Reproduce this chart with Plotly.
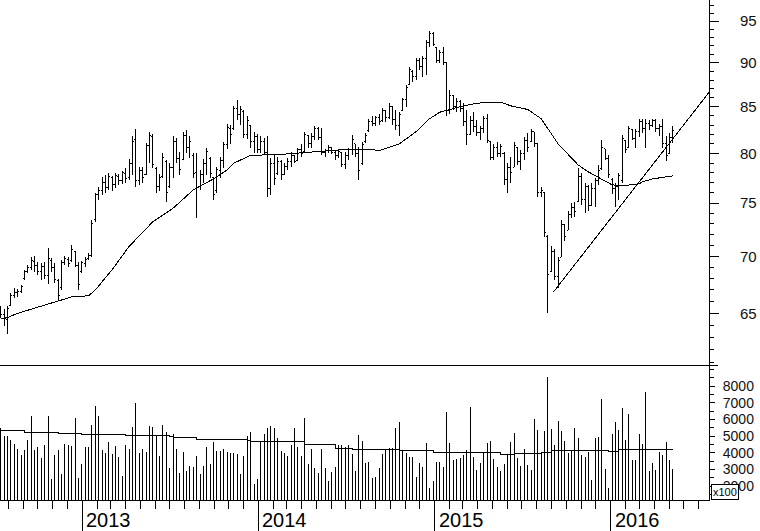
import math
import pandas as pd
import plotly.graph_objects as go

# ---------------- data (weekly bars) ----------------
start_date = "2012-07-16"
n_bars = 200

high = [
    65.6, 65.4, 65.6, 66.7, 67.2, 67.1, 67.4, 68.8, 69.2, 69.9,
    70.0, 69.5, 69.4, 69.5, 70.8, 69.8, 69.4, 68.0, 69.7, 70.0,
    69.9, 71.0, 70.5, 69.5, 69.6, 69.9, 70.3, 73.4, 76.0, 76.6,
    77.6, 77.8, 78.0, 77.7, 78.0, 77.9, 78.2, 78.5, 79.4, 81.8,
    82.6, 78.6, 78.6, 81.1, 82.3, 82.0, 78.6, 77.9, 80.0, 79.3,
    79.0, 81.8, 81.6, 80.1, 82.3, 82.5, 81.8, 80.0, 80.0, 78.3,
    79.4, 80.6, 79.6, 77.6, 78.6, 79.6, 81.2, 83.1, 83.0, 85.1,
    85.7, 85.1, 84.6, 84.0, 83.0, 82.3, 82.0, 81.8, 81.6, 81.8,
    79.5, 79.8, 79.6, 79.3, 79.0, 79.5, 80.1, 79.8, 80.6, 81.0,
    82.3, 81.9, 82.1, 82.9, 82.8, 82.7, 80.5, 80.9, 80.7, 80.4,
    80.5, 80.1, 80.1, 80.6, 81.9, 81.0, 80.7, 81.2, 82.1, 83.7,
    84.0, 84.0, 84.2, 84.9, 84.6, 85.4, 85.0, 84.6, 84.4, 86.0,
    87.4, 89.5, 89.2, 90.6, 90.6, 90.8, 92.7, 93.8, 93.7, 91.8,
    91.5, 91.8, 90.1, 86.9, 86.3, 86.0, 85.7, 85.4, 84.6, 84.0,
    84.4, 83.5, 82.9, 84.0, 84.2, 81.2, 81.0, 81.2, 81.0, 80.1,
    79.0, 79.6, 81.2, 80.7, 80.4, 81.7, 82.1, 82.6, 82.3, 81.0,
    76.6, 76.0, 72.0, 70.9, 70.7, 69.9, 73.4, 72.9, 74.2, 75.0,
    75.1, 78.5, 78.0, 77.0, 76.8, 77.0, 77.5, 78.8, 81.4, 80.5,
    79.8, 77.5, 77.0, 78.0, 81.9, 81.4, 82.9, 82.6, 82.6, 83.7,
    83.7, 83.7, 83.5, 83.7, 83.7, 83.1, 83.7, 81.8, 82.1, 82.9,
]

low = [
    64.6, 63.9, 63.3, 65.6, 66.3, 66.4, 66.7, 67.9, 68.5, 68.8,
    68.6, 68.3, 67.9, 68.0, 67.5, 68.6, 67.6, 66.1, 67.0, 69.2,
    69.0, 69.5, 69.0, 67.0, 68.5, 69.0, 69.7, 69.9, 73.2, 75.3,
    75.8, 76.0, 76.3, 76.2, 76.5, 76.8, 76.9, 77.0, 77.3, 77.8,
    76.6, 76.8, 77.0, 77.8, 79.0, 78.5, 76.0, 76.2, 77.5, 75.1,
    76.5, 77.5, 79.0, 77.8, 79.3, 80.0, 79.5, 77.5, 73.6, 76.3,
    77.0, 77.8, 77.5, 75.3, 76.0, 77.5, 78.5, 80.5, 81.0, 82.5,
    83.6, 83.0, 81.6, 81.5, 80.6, 80.0, 80.0, 80.0, 79.8, 75.6,
    75.8, 76.8, 77.8, 77.3, 77.8, 78.3, 78.6, 79.0, 79.3, 79.6,
    80.1, 80.6, 80.6, 81.4, 81.4, 79.8, 79.6, 80.0, 79.9, 79.3,
    79.5, 78.6, 78.4, 79.3, 79.8, 79.6, 77.3, 78.8, 81.1, 82.3,
    82.9, 82.9, 83.0, 83.3, 83.3, 83.7, 83.0, 82.5, 81.8, 84.6,
    85.0, 87.4, 87.8, 88.0, 89.2, 88.4, 88.6, 91.8, 92.0, 90.0,
    90.0, 89.7, 84.0, 84.2, 84.6, 84.4, 84.4, 82.9, 80.9, 81.9,
    82.3, 81.8, 81.4, 82.1, 81.1, 79.3, 79.3, 79.6, 79.6, 76.8,
    76.0, 77.0, 78.6, 78.8, 78.3, 79.3, 80.1, 81.2, 80.7, 75.6,
    75.6, 71.8, 65.0, 68.6, 67.9, 67.2, 69.9, 71.4, 72.4, 73.6,
    73.7, 75.1, 74.8, 74.0, 74.2, 74.8, 74.6, 76.8, 78.3, 79.3,
    77.5, 75.9, 74.6, 75.3, 77.0, 80.0, 80.6, 81.4, 80.6, 81.7,
    82.2, 80.6, 82.5, 82.8, 82.3, 81.8, 80.6, 79.2, 80.0, 81.1,
]

open_ = [
    65.3, 64.9, 64.5, 65.7, 66.5, 66.8, 66.9, 68.0, 68.6, 69.0,
    69.5, 69.2, 68.6, 69.1, 68.3, 69.6, 69.0, 67.8, 67.2, 69.4,
    69.7, 69.6, 70.4, 69.2, 68.6, 69.3, 69.8, 70.1, 73.4, 75.8,
    76.2, 77.0, 76.5, 77.5, 76.8, 77.6, 77.2, 77.9, 77.5, 79.0,
    81.5, 77.2, 78.2, 77.8, 80.8, 81.8, 78.5, 76.6, 77.6, 79.2,
    76.6, 78.6, 81.3, 79.5, 79.4, 81.9, 80.6, 79.8, 78.0, 76.6,
    77.8, 79.0, 79.5, 77.5, 76.2, 78.2, 79.3, 80.9, 82.6, 82.6,
    84.8, 84.2, 84.5, 82.0, 83.0, 81.2, 81.8, 80.4, 81.3, 80.1,
    76.4, 79.0, 77.9, 79.2, 77.8, 78.7, 79.2, 79.8, 79.3, 80.4,
    80.2, 81.9, 81.0, 81.8, 82.6, 81.7, 80.1, 80.3, 80.6, 80.1,
    79.8, 80.1, 78.9, 79.8, 80.4, 81.0, 80.0, 79.0, 81.2, 82.4,
    83.4, 83.2, 83.8, 83.5, 84.6, 83.8, 85.0, 83.6, 83.0, 84.6,
    85.8, 87.5, 89.0, 88.4, 90.3, 89.6, 90.5, 92.4, 93.5, 91.8,
    90.3, 91.2, 90.0, 84.6, 86.2, 85.0, 85.6, 84.8, 83.4, 82.0,
    83.5, 82.8, 82.2, 82.6, 83.7, 81.2, 79.6, 80.6, 80.0, 80.0,
    77.3, 78.6, 78.6, 80.6, 79.2, 80.0, 81.4, 81.3, 82.3, 81.0,
    76.0, 76.0, 71.8, 68.6, 70.4, 68.2, 69.9, 72.9, 72.4, 73.9,
    74.6, 75.2, 77.6, 75.4, 76.6, 74.8, 76.4, 77.2, 78.4, 80.5,
    79.5, 77.3, 76.4, 76.6, 77.2, 81.4, 80.6, 82.5, 81.6, 82.3,
    83.4, 82.6, 83.2, 83.0, 83.5, 82.6, 82.9, 81.0, 80.0, 81.7,
]

close = [
    64.9, 64.6, 65.4, 66.5, 66.8, 66.9, 67.3, 68.6, 69.0, 69.6,
    69.2, 68.6, 69.1, 68.3, 69.8, 69.0, 67.9, 66.5, 69.4, 69.8,
    69.3, 70.6, 69.2, 67.5, 69.4, 69.7, 70.1, 73.0, 75.8, 76.2,
    77.0, 76.5, 77.6, 76.8, 77.7, 77.2, 78.0, 77.4, 79.0, 81.2,
    77.2, 78.2, 77.5, 80.8, 81.9, 78.9, 76.6, 77.5, 79.6, 76.0,
    78.6, 81.3, 79.5, 78.3, 81.9, 80.6, 81.2, 77.9, 76.5, 77.8,
    79.0, 80.2, 77.9, 75.8, 78.3, 79.3, 80.9, 82.7, 82.0, 84.8,
    84.2, 84.7, 82.0, 83.5, 81.2, 81.8, 80.4, 81.3, 80.1, 76.4,
    79.0, 77.4, 79.2, 77.8, 78.7, 79.2, 79.8, 79.2, 80.4, 80.0,
    82.0, 81.0, 81.8, 82.6, 81.7, 80.1, 80.3, 80.6, 80.1, 79.8,
    80.2, 78.9, 79.8, 80.4, 81.5, 80.0, 78.2, 80.9, 81.9, 83.4,
    83.2, 83.8, 83.4, 84.6, 83.8, 85.0, 83.6, 83.0, 84.2, 85.8,
    87.2, 89.2, 88.4, 90.3, 89.6, 90.5, 92.4, 93.5, 92.2, 90.3,
    91.2, 90.0, 84.6, 86.2, 85.0, 85.6, 84.8, 83.4, 82.0, 83.5,
    82.8, 82.2, 82.6, 83.7, 81.4, 79.6, 80.6, 80.0, 80.7, 77.3,
    78.6, 78.0, 80.8, 79.2, 80.0, 81.4, 80.6, 82.3, 81.0, 76.0,
    76.2, 72.2, 68.4, 70.4, 68.2, 69.6, 72.9, 71.8, 73.9, 74.6,
    74.2, 77.6, 75.4, 76.6, 74.8, 76.4, 77.2, 78.2, 80.6, 79.5,
    77.8, 76.4, 76.6, 77.7, 81.6, 80.4, 82.6, 81.6, 82.3, 83.4,
    82.6, 83.2, 83.0, 83.5, 82.6, 82.9, 81.0, 79.8, 81.7, 82.4,
]

# weekly volume (x100)
volume = [
    5460, 5000, 5000, 4760, 4520, 4220, 3860, 4160, 4760, 6200,
    4160, 4320, 3700, 4460, 6200, 2420, 3860, 4160, 2720, 4520,
    4460, 4420, 6100, 2500, 3320, 4320, 4320, 5660, 6820, 6200,
    4160, 4000, 4660, 3920, 4400, 3760, 2620, 4460, 4220, 5560,
    6960, 4000, 4220, 4020, 5600, 5560, 5060, 3800, 5660, 5260,
    3060, 5100, 4220, 2800, 4060, 2900, 3200, 3120, 3800, 2720,
    3200, 4320, 3320, 4660, 4120, 4120, 4220, 4060, 3960, 3960,
    3900, 2720, 3800, 5000,
    5260, 2120, 2420, 4700, 5120, 5460, 5600, 5500, 4860, 4120,
    3960, 3800, 4460, 5460, 4320, 3800, 6100, 3320, 4220, 3060,
    2800, 4220, 3060, 2320, 2820, 3160, 4460, 4460, 4320, 4460,
    3920, 2900, 5060, 4720, 3400, 3420, 2500, 2560, 3060, 3920,
    4160, 4260, 4300, 5460, 5860, 4120, 3960, 3720, 3760, 2520,
    3400, 3120, 4600, 1900, 2320, 3460, 3460, 3160, 6460, 4600,
    3560, 3600, 3660, 3860, 4160, 6760, 3720, 2960, 3360, 4000,
    4600, 4720, 3620, 3160, 2900,
    3300, 3860, 4660, 5200, 3700, 3200, 4200, 3260, 2960, 6000,
    5360, 3920, 5300, 8560, 5420, 4460, 5900, 5300, 4700, 4000,
    4160, 5460, 4900, 3860, 3760, 4060, 2360, 4900, 4960, 7220,
    3020, 1860, 5120, 5860, 5360, 6660, 4760, 6320, 3560, 3560,
    5120, 4520, 7620, 2900, 3360, 2960, 4020, 3860, 4660, 3560,
    3020,
]

# long moving average of the price (read at selected bars)
ma_idx = [0, 2, 5, 11, 17, 21, 26, 28, 33, 38, 45, 51, 57, 63, 67, 69, 74,
          83, 94, 104, 109, 112, 118, 123, 127, 130, 136, 141, 148, 151, 156,
          160, 165, 171, 174, 178, 181, 184, 189, 190, 193, 199]
ma_val = [64.55, 64.65, 65.0, 65.5, 66.0, 66.4, 66.5, 67.0, 68.8, 70.9, 73.2,
          74.5, 76.3, 77.4, 78.3, 79.0, 79.8, 79.9, 80.2, 80.45, 80.45, 80.3,
          81.0, 82.3, 83.7, 84.4, 85.0, 85.4, 85.5, 85.1, 84.7, 83.7, 81.0,
          78.8, 78.1, 77.4, 76.8, 76.7, 76.9, 77.1, 77.4, 77.7]

# moving average of volume (read at selected bars)
vma_idx = [0, 6, 7, 17, 24, 37, 50, 51, 58, 73, 74, 82, 89, 90, 97, 99, 104,
           118, 128, 143, 148, 149, 152, 159, 160, 162, 163, 178, 180, 182,
           183, 199]
vma_val = [5360, 5360, 5220, 5160, 5120, 5060, 4980, 4920, 4800, 4720, 4700,
           4660, 4660, 4520, 4520, 4260, 4200, 4120, 4020, 4020, 3920, 3900,
           3960, 3960, 4020, 4020, 4120, 4160, 4100, 4100, 4200, 4240]

# support trend line (start, end)
trend_x = ["2015-09-04", "2016-07-22 20:00"]
trend_y = [66.8, 86.6]

years = ["2013", "2014", "2015", "2016"]
price_ticks = [65, 70, 75, 80, 85, 90, 95]
vol_ticks = [2000, 3000, 4000, 5000, 6000, 7000, 8000]

# ---------------- figure ----------------
dates = pd.date_range(start_date, periods=n_bars, freq="7D")

x_range = ["2012-07-14 10:00", "2016-07-22 20:40"]
price_range = [60.78, 97.64]
vol_range = [1160, 9260]
split = 0.27

fig = go.Figure()

fig.add_trace(go.Ohlc(
    x=dates, open=open_, high=high, low=low, close=close,
    increasing=dict(line=dict(color="black", width=1)),
    decreasing=dict(line=dict(color="black", width=1)),
    tickwidth=0.45, xaxis="x", yaxis="y", hoverinfo="skip",
))

fig.add_trace(go.Scatter(
    x=[dates[i] for i in ma_idx], y=ma_val, mode="lines",
    line=dict(color="black", width=1), xaxis="x", yaxis="y", hoverinfo="skip",
))

fig.add_trace(go.Scatter(
    x=trend_x, y=trend_y, mode="lines", line=dict(color="black", width=1),
    xaxis="x", yaxis="y", hoverinfo="skip", cliponaxis=True,
))

vx, vy = [], []
for d, v in zip(dates, volume):
    vx += [d, d, None]
    vy += [vol_range[0], v, None]
fig.add_trace(go.Scatter(
    x=vx, y=vy, mode="lines", line=dict(color="black", width=1),
    xaxis="x", yaxis="y2", hoverinfo="skip",
))

fig.add_trace(go.Scatter(
    x=[dates[i] for i in vma_idx], y=vma_val, mode="lines", line_shape="hv",
    line=dict(color="black", width=1), xaxis="x", yaxis="y2", hoverinfo="skip",
))

lab_font = dict(family="Liberation Sans, Arial, sans-serif", color="#111")

fig.update_layout(
    width=760, height=531,
    margin=dict(l=0, r=51, t=0, b=31, pad=0, autoexpand=False),
    paper_bgcolor="white", plot_bgcolor="white",
    showlegend=False, hovermode=False,
    xaxis=dict(
        type="date", range=x_range, anchor="y2", domain=[0, 1],
        automargin=False,
        showgrid=False, zeroline=False,
        showline=True, linecolor="black", linewidth=1,
        ticks="outside", ticklen=30, tickwidth=1, tickcolor="black",
        tickvals=[f"{y}-01-01" for y in years], showticklabels=False,
        minor=dict(ticks="outside", ticklen=8, tickwidth=1, tickcolor="black",
                   dtick="M1", tick0="2012-08-01", showgrid=False),
        rangeslider=dict(visible=False),
    ),
    yaxis=dict(
        type="log", domain=[split, 1], anchor="x", side="right",
        automargin=False,
        range=[math.log10(price_range[0]), math.log10(price_range[1])],
        showgrid=False, zeroline=False,
        showline=True, linecolor="black", linewidth=1,
        ticks="outside", ticklen=9, tickwidth=1, tickcolor="black",
        tickvals=price_ticks, ticktext=[str(t) for t in price_ticks],
        tickfont=dict(size=15, **lab_font), ticklabelstandoff=18,
        minor=dict(ticks="outside", ticklen=4, tickwidth=1, tickcolor="black",
                   tickmode="array", tickvals=list(range(61, 98))),
    ),
    yaxis2=dict(
        domain=[0, split], anchor="x", side="right", range=vol_range,
        automargin=False,
        showgrid=False, zeroline=False,
        showline=True, linecolor="black", linewidth=1,
        ticks="outside", ticklen=5, tickwidth=1, tickcolor="black",
        tickvals=vol_ticks, ticktext=[str(t) for t in vol_ticks],
        tickfont=dict(size=14, **lab_font), ticklabelstandoff=5,
        minor=dict(ticks="outside", ticklen=4, tickwidth=1, tickcolor="black",
                   dtick=500, tick0=0),
    ),
    shapes=[
        dict(type="line", xref="paper", yref="paper", x0=0, x1=1.0127,
             y0=split, y1=split, line=dict(color="black", width=1)),
    ],
)

annotations = []
for y in years:
    annotations.append(dict(
        x=f"{y}-01-01", xref="x", y=-0.04, yref="paper", xanchor="left",
        yanchor="middle", xshift=2, text=y, showarrow=False,
        font=dict(size=20, family="Liberation Sans, Arial, sans-serif", color="black"),
    ))
annotations.append(dict(
    x=1.0024, xref="paper", y=0.0, yref="paper", xanchor="left", yanchor="bottom",
    text="x100", showarrow=False, bgcolor="white", bordercolor="black",
    borderwidth=1, borderpad=1,
    font=dict(size=11, family="Liberation Sans, Arial, sans-serif", color="black"),
))
fig.update_layout(annotations=annotations)

post = """
document.documentElement.style.margin='0';
document.body.style.margin='0';
document.body.style.padding='0';
function crisp(){ document.querySelectorAll('path').forEach(function(p){p.style.shapeRendering='crispEdges';}); }
crisp(); setTimeout(crisp, 50);
"""
fig.write_html("out.html", post_script=post,
               config={"displayModeBar": False, "staticPlot": True})
